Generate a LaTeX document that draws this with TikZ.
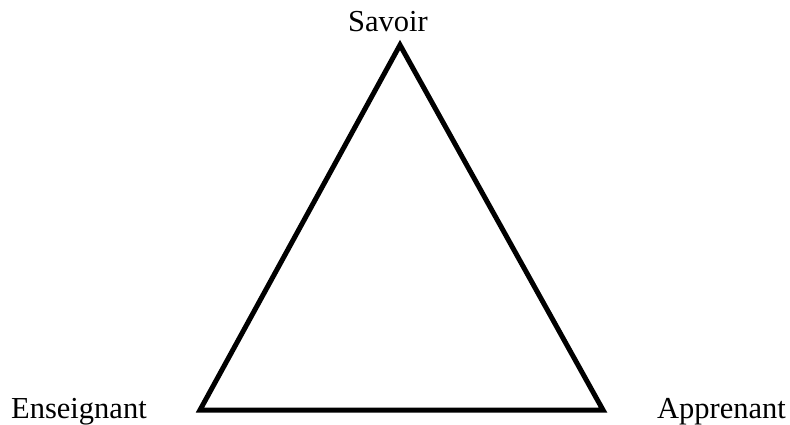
\documentclass[tikz,border=0pt]{standalone}
\usepackage{fontspec}
\setmainfont{Liberation Serif}
\usetikzlibrary{positioning}

\begin{document}
\begin{tikzpicture}[
        x=1pt, y=-1pt,
        lbl/.style={inner sep=0pt, font=\fontsize{30.5}{36}\selectfont},
        cote/.style={line width=5pt}
    ]
        \useasboundingbox (0,0) rectangle (790,425);
        \coordinate (s) at (400,45);
        \coordinate (e) at (200,410);
        \coordinate (p) at (603,410);
        \node[lbl, anchor=base] (savoir) at (388,32) {Savoir};
        \node[lbl, anchor=base west] (ens) at (11,418) {Enseignant};
        \node[lbl, anchor=base west] (app) at (657,418) {Apprenant};
        \draw[cote] (s) -- (e) -- (p) -- cycle;
    \end{tikzpicture}
\end{document}
